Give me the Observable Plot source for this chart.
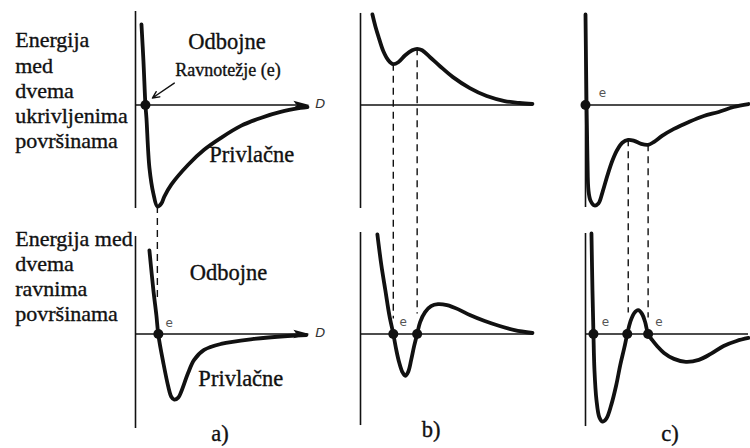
<!DOCTYPE html>
<html>
<head>
<meta charset="utf-8">
<script src="https://cdn.jsdelivr.net/npm/d3@7"></script>
<script src="https://cdn.jsdelivr.net/npm/@observablehq/plot@0.6"></script>
<style>
  html, body { margin: 0; padding: 0; background: #fff; overflow: hidden; }
  #chart svg text.serif, #chart svg .serif text { font-family: "Liberation Serif", "Times New Roman", "DejaVu Serif", serif; }
</style>
</head>
<body>
<div id="chart"></div>
<script>
// Interaction energy W(D) between two surfaces, three cases a), b), c);
// top row: curved surfaces, bottom row: flat surfaces.
const panels = ["a)", "b)", "c)"];
const rows = ["ukrivljeni", "ravni"];

// energy curves as [D, W] pairs
const curvedA = [[0.3, 8.1], [0.4, 4.4], [0.5, 0], [0.55, -1.3], [0.7, -6.3], [0.9, -8.9], [1.1, -10.2],
  [1.3, -9.9], [1.45, -9.2], [1.8, -8.0], [2.65, -6.0], [3.45, -4.5], [4.3, -3.3], [5.3, -2.1],
  [6.3, -1.3], [7.3, -0.7], [8.3, -0.3], [8.65, -0.2]];
const curvedB = [[0.6, 9.1], [0.75, 7.9], [0.9, 6.9], [1.15, 5.4], [1.4, 4.5], [1.65, 4.1], [1.9, 4.3],
  [2.25, 5.0], [2.6, 5.5], [2.85, 5.65], [3.1, 5.5], [3.5, 4.8], [4.0, 3.9], [4.65, 2.8], [5.5, 1.7],
  [6.35, 0.9], [7.25, 0.4], [8.0, 0.2], [8.65, 0.1]];
const curvedC = [[0, 9.1], [0.05, 0.4], [0.1, -5.6], [0.15, -8.6], [0.25, -9.6], [0.45, -10.1],
  [0.65, -9.9], [0.85, -8.8], [1.1, -7.1], [1.35, -5.6], [1.6, -4.5], [1.85, -3.8], [2.15, -3.5],
  [2.45, -3.6], [2.8, -3.9], [3.15, -4.0], [3.45, -3.7], [3.85, -3.1], [4.45, -2.4], [5.2, -1.7],
  [5.95, -1.1], [6.7, -0.7], [7.45, -0.2], [8.2, 0.1]];
const flatA = [[0.7, 8.4], [0.9, 4.4], [1.05, 1.9], [1.15, -0.1], [1.4, -2.9], [1.65, -5.3], [1.8, -6.3],
  [1.95, -6.6], [2.15, -6.4], [2.3, -5.8], [2.65, -3.9], [2.95, -2.6], [3.45, -1.6], [4.3, -1.0],
  [5.95, -0.5], [7.65, -0.2], [8.6, -0.1]];
const flatB = [[0.85, 10.0], [1.05, 6.9], [1.25, 4.4], [1.45, 1.9], [1.65, 0], [1.8, -1.6], [1.95, -2.9],
  [2.1, -3.8], [2.25, -4.2], [2.4, -3.8], [2.55, -2.6], [2.7, -1.2], [2.85, 0], [3.0, 1.2], [3.25, 2.2],
  [3.55, 2.8], [3.9, 3.0], [4.35, 2.9], [4.9, 2.5], [5.5, 1.9], [6.25, 1.3], [7.0, 0.8], [7.75, 0.4], [8.65, 0.1]];
const flatC = [[0.3, 10.1], [0.35, 4.4], [0.4, 0], [0.45, -3.6], [0.55, -6.6], [0.7, -8.4], [0.85, -8.8],
  [1.05, -8.5], [1.3, -7.1], [1.55, -5.1], [1.75, -3.1], [1.95, -1.4], [2.1, 0], [2.25, 1.2], [2.45, 2.1],
  [2.65, 2.4], [2.85, 2.0], [3.0, 1.2], [3.15, 0], [3.35, -0.6], [3.6, -1.2], [3.95, -1.9], [4.45, -2.5],
  [5.05, -2.8], [5.7, -2.6], [6.3, -2.0], [6.95, -1.2], [7.6, -0.7], [8.2, -0.4]];

// equilibrium separations (W = 0)
const eqCurvedA = [0.5];
const eqCurvedC = [0];
const eqFlatA = [1.15];
const eqFlatB = [1.65, 2.85];
const eqFlatC = [0.4, 2.1, 3.15];

// extrema of the curved-surface energy projected onto the flat-surface curves: [D, W top, W bottom]
const projA = [[1.1, -10.2, 3.2]];
const projB = [[1.65, 4.1, 1.5], [2.85, 5.65, 2.0]];
const projC = [[2.15, -3.5, 2.1], [3.15, -4.0, 1.6]];

// texts
const rowTitles = ["Energija\nmed\ndvema\nukrivljenima\npovršinama", "Energija med\ndvema\nravnima\npovršinama"];
const regionNames = ["Odbojne", "Privlačne"];
const eqName = "Ravnotežje (e)";
const eqMark = "e";
const axisName = "D";

// ---- layout ----
const [A, B, C] = panels;
const [TOP, BOT] = rows;
const pxPerW = 10;                 // 200 px band for W in [-10, 10]
const rowShift = 230 / pxPerW;     // vertical distance between the two rows in W units
const axisEnd = {[A]: 8.7, [B]: 8.65, [C]: 8.2};
const vAxes = [
  {panel: A, row: TOP, y1: 9.4, y2: -10.4}, {panel: B, row: TOP, y1: 9.2, y2: -10.4},
  {panel: C, row: TOP, y1: 9.1, y2: -10.3}, {panel: A, row: BOT, y1: 9.8, y2: -9.5},
  {panel: B, row: BOT, y1: 10.2, y2: -9.2}, {panel: C, row: BOT, y1: 10.1, y2: -9.3}
];
const hAxes = panels.flatMap(p => rows.map(r => ({panel: p, row: r, x2: axisEnd[p] - (p === A ? 0.6 : 0)})));
const arrowTips = rows.map(r => ({panel: A, row: r, D: axisEnd[A], W: 0}));

const curves = [
  [A, TOP, curvedA], [B, TOP, curvedB], [C, TOP, curvedC],
  [A, BOT, flatA], [B, BOT, flatB], [C, BOT, flatC]
].flatMap(([panel, row, pts]) => pts.map(([D, W]) => ({panel, row, key: panel + row, D, W})));

const eqPoints = [
  ...eqCurvedA.map(D => ({panel: A, row: TOP, D})),
  ...eqCurvedC.map(D => ({panel: C, row: TOP, D})),
  ...eqFlatA.map(D => ({panel: A, row: BOT, D})),
  ...eqFlatB.map(D => ({panel: B, row: BOT, D})),
  ...eqFlatC.map(D => ({panel: C, row: BOT, D}))
];

const projections = [[A, projA], [B, projB], [C, projC]]
  .flatMap(([panel, list]) => list.map(([D, w1, w2]) => ({panel, row: TOP, D, y1: w1, y2: w2 - rowShift})));

const eqTags = [
  {panel: C, row: TOP, D: 0.85, W: 1.2},
  {panel: A, row: BOT, D: 1.7, W: 1.1},
  {panel: B, row: BOT, D: 2.15, W: 1.2},
  {panel: C, row: BOT, D: 1.0, W: 1.2},
  {panel: C, row: BOT, D: 3.7, W: 1.2}
];

const titleTexts = [
  {panel: A, row: TOP, D: -6.05, W: -4.3, text: rowTitles[0]},
  {panel: A, row: BOT, D: -6.05, W: 1.3, text: rowTitles[1]}
];
const bigTexts = [
  {panel: A, row: TOP, D: 4.6, W: 5.6, text: regionNames[0]},
  {panel: A, row: TOP, D: 5.85, W: -5.7, text: regionNames[1]},
  {panel: A, row: BOT, D: 4.675, W: 5.4, text: regionNames[0]},
  {panel: A, row: BOT, D: 5.3, W: -5.2, text: regionNames[1]},
  {panel: A, row: BOT, D: 4.25, W: -10.8, text: panels[0]},
  {panel: B, row: BOT, D: 3.55, W: -10.4, text: panels[1]},
  {panel: C, row: BOT, D: 4.25, W: -10.8, text: panels[2]}
];
const calloutText = [{panel: A, row: TOP, D: 4.65, W: 2.9, text: eqName}];
const axisLabels = rows.map(r => ({panel: A, row: r, D: 9.3, W: 0.1}));

// narrow filled arrowhead, tip at the origin, pointing right
const arrowHead = {
  draw(ctx) {
    ctx.moveTo(1, 0);
    ctx.lineTo(-15, -4.2);
    ctx.lineTo(-12, 0);
    ctx.lineTo(-15, 4.2);
    ctx.closePath();
  }
};

const ink = "#111";
const serif = "'Liberation Serif', 'Times New Roman', 'DejaVu Serif', serif";
const sans = "'DejaVu Sans', 'Liberation Sans', sans-serif";
const facet = {fx: "panel", fy: "row"};
// slightly heavier glyphs, as in printed type
const serifStyle = {fontFamily: serif, fill: ink, stroke: ink, strokeWidth: 0.35, className: "serif"};

const chart = Plot.plot({
  width: 750,
  height: 448,
  marginLeft: 134,
  marginRight: 0,
  marginTop: 4,
  marginBottom: 14,
  style: {background: "white"},
  fx: {domain: panels, paddingInner: 0.274, paddingOuter: 0, axis: null},
  fy: {domain: rows, paddingInner: 0.13, paddingOuter: 0, axis: null},
  x: {domain: [0, 8.2], axis: null},
  y: {domain: [-10, 10], axis: null},
  marks: [
    // axes
    Plot.ruleX(vAxes, {...facet, x: 0, y1: "y1", y2: "y2", stroke: ink, strokeWidth: 1.6}),
    Plot.ruleY(hAxes, {...facet, y: 0, x1: 0, x2: "x2", stroke: ink, strokeWidth: 1.6}),
    Plot.dot(arrowTips, {...facet, x: "D", y: "W", symbol: arrowHead, fill: ink, stroke: "none"}),
    // projections between the two rows
    Plot.ruleX(projections, {...facet, x: "D", y1: "y1", y2: "y2",
      stroke: ink, strokeWidth: 1.4, strokeDasharray: "7,5"}),
    // energy curves
    Plot.line(curves, {...facet, x: "D", y: "W", z: "key", curve: "catmull-rom",
      stroke: ink, strokeWidth: 3.8, strokeLinejoin: "round", strokeLinecap: "round"}),
    // equilibrium points
    Plot.dot(eqPoints, {...facet, x: "D", y: 0, r: 5, fill: ink, stroke: "none"}),
    Plot.arrow([{panel: A, row: TOP}], {...facet, x1: 1.95, y1: 2.2, x2: 0.85, y2: 0.7,
      stroke: ink, strokeWidth: 1.4, headLength: 8, headAngle: 50}),
    // labels
    Plot.text(eqTags, {...facet, x: "D", y: "W", text: () => eqMark,
      fontFamily: sans, fontSize: 12, fill: "#555"}),
    Plot.text(axisLabels, {...facet, x: "D", y: "W", text: () => axisName,
      fontFamily: sans, fontStyle: "italic", fontSize: 13, fill: "#333"}),
    Plot.text(titleTexts, {...facet, ...serifStyle, x: "D", y: "W", text: "text",
      fontSize: 22, textAnchor: "start", lineAnchor: "bottom", lineHeight: 1.14}),
    Plot.text(bigTexts, {...facet, ...serifStyle, x: "D", y: "W", text: "text",
      fontSize: 22.5, textAnchor: "middle", lineAnchor: "bottom"}),
    Plot.text(calloutText, {...facet, ...serifStyle, x: "D", y: "W", text: "text",
      fontSize: 18, textAnchor: "middle", lineAnchor: "bottom"})
  ]
});

document.getElementById("chart").appendChild(chart);
</script>
</body>
</html>
